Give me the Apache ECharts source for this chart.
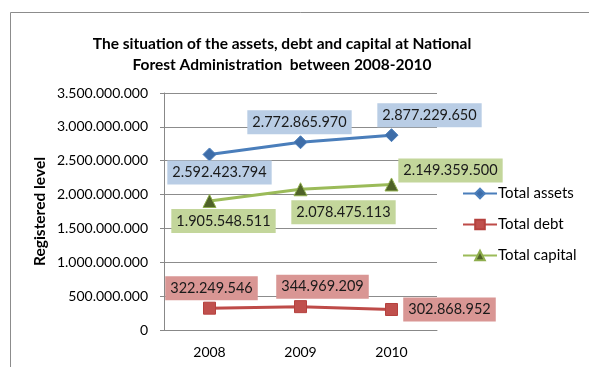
<!DOCTYPE html>
<html><head><meta charset="utf-8">
<script src="https://cdn.jsdelivr.net/npm/echarts@6/dist/echarts.min.js"></script>
<style>html,body{margin:0;padding:0;background:#fff}#c{width:589px;height:367px}</style>
</head><body><div id="c"></div>
<script>
const categories = ['2008', '2009', '2010'];
const totalAssets = [2592423794, 2772865970, 2877229650];
const totalDebt = [322249546, 344969209, 302868952];
const totalCapital = [1905548511, 2078475113, 2149359500];
const yTicks = [0, 500000000, 1000000000, 1500000000, 2000000000, 2500000000, 3000000000, 3500000000];

const FONT = 'Lato, "Open Sans", sans-serif';
function fmt(v){ return String(Math.round(v)).replace(/\B(?=(\d{3})+(?!\d))/g, '.'); }

const assetOffsets = [[10,18],[-1,-20],[38,-20]];
const debtOffsets = [[2,-20],[22,-20],[58,0]];
const capitalOffsets = [[14,20],[43,23],[59,-14]];

function mk(values, offsets, bg){
  return values.map((v,i)=>({value:v, label:{show:true, position:'inside', offset:offsets[i],
    formatter:p=>fmt(p.value), backgroundColor:bg, color:'#1a1a1a', fontFamily:FONT, fontSize:14.5, padding:[5,5,4,5]}}));
}

const chart = echarts.init(document.getElementById('c'), null, {renderer:'canvas'});
chart.setOption({
  animation:false,
  graphic:[{type:'rect', left:8, top:10, shape:{width:620, height:400}, style:{fill:'none', stroke:'#8c8c8c', lineWidth:1}, silent:true}],
  title:{text:'The situation of the assets, debt and capital at National\nForest Administration  between 2008-2010',
    left:277, top:28, textAlign:'center',
    textStyle:{fontFamily:FONT, fontWeight:'bold', fontSize:15.5, lineHeight:21, color:'#000'}},
  legend:{orient:'vertical', left:462, top:186, padding:0, itemWidth:34, itemHeight:12, itemGap:16,
    textStyle:{fontFamily:FONT, fontSize:15, color:'#000', padding:[0,0,0,-4]},
    data:['Total assets','Total debt','Total capital']},
  grid:{left:164, right:152, top:93, bottom:37},
  xAxis:{type:'category', data:categories, boundaryGap:true,
    axisLine:{lineStyle:{color:'#888', width:1}}, axisTick:{show:false},
    axisLabel:{fontFamily:FONT, fontSize:14, color:'#000', margin:15}},
  yAxis:{type:'value', min:0, max:3500000000, interval:500000000,
    name:'Registered level', nameLocation:'middle', nameGap:116,
    nameTextStyle:{fontFamily:FONT, fontWeight:'bold', fontSize:15.5, color:'#000'},
    axisLine:{show:true, lineStyle:{color:'#888'}}, axisTick:{show:true, length:4, lineStyle:{color:'#888'}},
    splitLine:{lineStyle:{color:'#8c8c8c', width:1}},
    axisLabel:{fontFamily:FONT, fontSize:14, color:'#000', margin:16,
      formatter:v=> yTicks.indexOf(v)>=0 ? fmt(v) : ''}},
  series:[
    {name:'Total assets', type:'line', data:mk(totalAssets, assetOffsets, '#B9CDE5'),
     symbol:'diamond', symbolSize:13, lineStyle:{color:'#4A7EBB', width:3},
     itemStyle:{color:'#3E6DA8', borderColor:'#4A7EBB', borderWidth:1}},
    {name:'Total debt', type:'line', data:mk(totalDebt, debtOffsets, '#D99694'),
     symbol:'rect', symbolSize:12, lineStyle:{color:'#BE4B48', width:3},
     itemStyle:{color:'#C0504D', borderColor:'#B5413E', borderWidth:1}},
    {name:'Total capital', type:'line', data:mk(totalCapital, capitalOffsets, '#C3D69B'),
     symbol:'triangle', symbolSize:13, lineStyle:{color:'#9BBB59', width:3},
     itemStyle:{color:'#4F6228', borderColor:'#8FAE4E', borderWidth:1}}
  ]
});
</script></body></html>
